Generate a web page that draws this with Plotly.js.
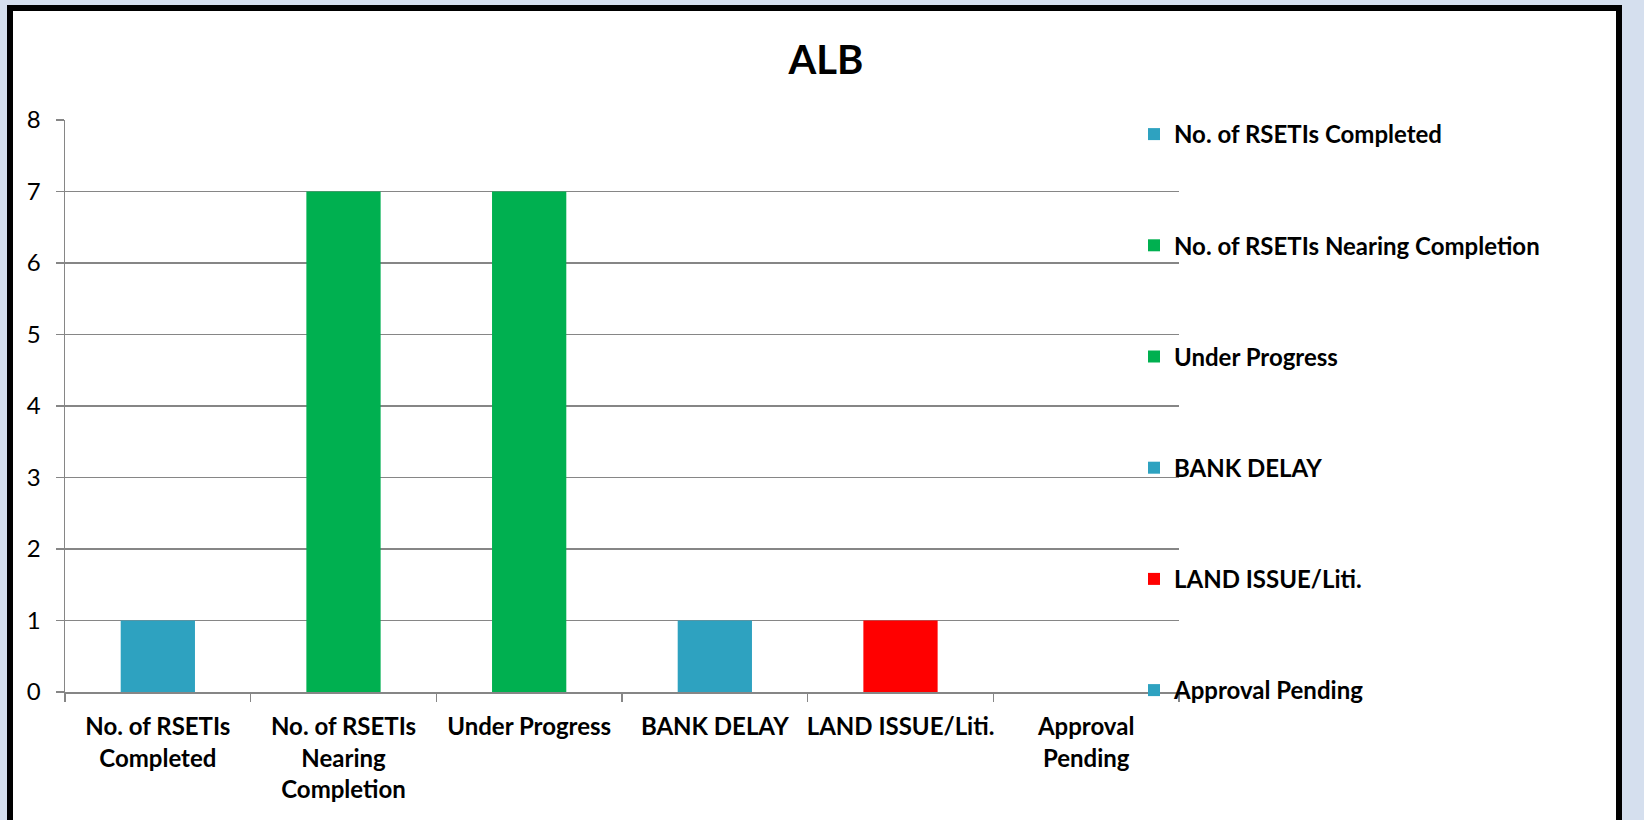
<!DOCTYPE html>
<html>
<head>
<meta charset="utf-8">
<script src="https://cdn.plot.ly/plotly-3.0.1.min.js"></script>
<style>
  html, body { margin:0; padding:0; width:1644px; height:820px; overflow:hidden; background:#d5dfee; }
  #frame { position:absolute; left:7px; top:5px; width:1603px; height:815px; border:6px solid #000; background:#fff; }
  #chart { width:1603px; height:815px; }
</style>
</head>
<body>
<div id="frame"><div id="chart"></div></div>
<script>
const categories = ["No. of RSETIs Completed", "No. of RSETIs Nearing Completion", "Under Progress", "BANK DELAY", "LAND ISSUE/Liti.", "Approval Pending"];
const tickLabels = ["No. of RSETIs<br>Completed", "No. of RSETIs<br>Nearing<br>Completion", "Under Progress", "BANK DELAY", "LAND ISSUE/Liti.", "Approval<br>Pending"];
const values = [1, 7, 7, 1, 1, 0];
const colors = ["#2ea2c0", "#00b050", "#00b050", "#2ea2c0", "#ff0000", "#2ea2c0"];

const FONT = "Lato, 'Open Sans', sans-serif";

const traces = categories.map((c, i) => ({
  type: 'bar',
  name: c,
  x: [categories[i]],
  y: [values[i]],
  marker: { color: colors[i] },
  width: 0.4,
  legendgroup: 'g' + i,
  hoverinfo: 'x+y'
}));

const layout = {
  width: 1603, height: 815,
  margin: { l: 52, r: 437, t: 109, b: 134, pad: 0, autoexpand: false },
  paper_bgcolor: '#ffffff',
  plot_bgcolor: '#ffffff',
  barmode: 'overlay',
  title: { text: '<b>ALB</b>', font: { family: FONT, size: 40, color: '#000' }, x: 813/1603, xref: 'container', y: 1 - 49/815, yref: 'container', yanchor: 'middle' },
  xaxis: {
    type: 'category',
    categoryorder: 'array',
    categoryarray: categories,
    tickvals: categories,
    ticktext: tickLabels,
    tickson: 'boundaries',
    ticks: 'outside', ticklen: 8, tickwidth: 1.5, tickcolor: '#868686',
    showline: true, linecolor: '#868686', linewidth: 1.5,
    showgrid: false,
    tickfont: { family: FONT, size: 24, color: '#000', weight: 'bold' },
    ticklabelstandoff: 13,
    tickangle: 0,
    automargin: false
  },
  yaxis: {
    range: [0, 8],
    dtick: 1,
    tick0: 0,
    ticks: 'outside', ticklen: 8, tickwidth: 1.5, tickcolor: '#868686',
    showline: true, linecolor: '#868686', linewidth: 1.5,
    showgrid: true, gridcolor: '#868686', gridwidth: 1.5,
    zeroline: false,
    tickfont: { family: FONT, size: 24, color: '#000' },
    ticklabelstandoff: 10,
    automargin: false
  },
  showlegend: true,
  legend: {
    xref: 'container', yref: 'container',
    x: 1121/1603, y: 1 - 101/815,
    xanchor: 'left', yanchor: 'top',
    traceorder: 'grouped',
    tracegroupgap: 77,
    maxheight: 800,
    font: { family: FONT, size: 24, color: '#000', weight: 'bold' },
    bgcolor: 'rgba(0,0,0,0)',
    borderwidth: 0
  },
  font: { family: FONT }
};

Plotly.newPlot('chart', traces, layout, { displayModeBar: false, staticPlot: true });
</script>
</body>
</html>
